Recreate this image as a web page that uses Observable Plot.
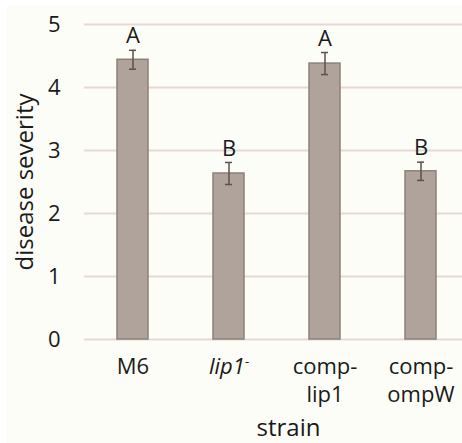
<!DOCTYPE html>
<html><head><meta charset="utf-8">
<script src="https://cdn.jsdelivr.net/npm/d3@7"></script>
<script src="https://cdn.jsdelivr.net/npm/@observablehq/plot@0.6"></script>
<style>
body{margin:0;background:#fff}
#wrap{position:relative;width:462px;height:443px;overflow:hidden;background:#fff}
#bg{position:absolute;left:7px;top:5px;right:0;bottom:0;background:#fdfdf7}
#chart{position:absolute;left:0;top:0}
</style>
</head><body>
<div id="wrap"><div id="bg"></div><div id="chart"></div></div>
<script>
const strains = ["M6", "lip1", "comp-lip1", "comp-ompW"];
const labels = ["M6", "lip1-", "comp-\nlip1", "comp-\nompW"];
const means = [4.44, 2.635, 4.38, 2.67];
const errors = [0.15, 0.175, 0.175, 0.145];
const letters = ["A", "B", "A", "B"];
const yTicks = [0, 1, 2, 3, 4, 5];
const yTitle = "disease severity";
const xTitle = "strain";

const data = strains.map((s, i) => ({strain: s, label: labels[i], mean: means[i], err: errors[i], letter: letters[i]}));

const chart = Plot.plot({
  width: 462, height: 443,
  marginLeft: 84, marginRight: -6, marginTop: 24, marginBottom: 104,
  style: {background: "transparent", fontFamily: "'Open Sans', sans-serif", fontSize: "22px", color: "#1a1a1a", overflow: "hidden"},
  x: {domain: strains, paddingInner: 0.68, paddingOuter: 0.34, axis: null},
  y: {domain: [0, 5], axis: null},
  marks: [
    Plot.gridY(yTicks, {stroke: "#e4d9d6", strokeOpacity: 1, strokeWidth: 2}),
    Plot.axisY(yTicks, {tickSize: 0, tickPadding: 24, fontSize: 22, label: null, fill: "#1a1a1a", tickFormat: d3.format("d")}),
    Plot.barY(data, {x: "strain", y: "mean", fill: "#afa39b", stroke: "#8c807b", strokeWidth: 1.5}),
    Plot.ruleX(data, {x: "strain", y1: d => d.mean - d.err, y2: d => d.mean + d.err, stroke: "#5e504c", strokeWidth: 1.5}),
    Plot.tickY(data, {x: "strain", y: d => d.mean + d.err, insetLeft: 12, insetRight: 12, stroke: "#5e504c", strokeWidth: 1.5}),
    Plot.tickY(data, {x: "strain", y: d => d.mean - d.err, insetLeft: 12, insetRight: 12, stroke: "#5e504c", strokeWidth: 1.5}),
    Plot.text(data, {x: "strain", y: d => d.mean + d.err, text: "letter", dy: -14, lineAnchor: "middle", fontSize: 22, fill: "#1a1a1a"}),
    Plot.text(data, {x: "strain", frameAnchor: "bottom", text: "label", lineAnchor: "top", dy: 14, lineHeight: 1.3, fontSize: 22, fill: "#1a1a1a"}),
    Plot.text([yTitle], {frameAnchor: "left", textAnchor: "middle", text: d => d, rotate: -90, dx: -59, fontSize: 24, lineAnchor: "middle", fill: "#1a1a1a"}),
    Plot.text([xTitle], {frameAnchor: "bottom", text: d => d, dx: 12, dy: 89, fontSize: 24, lineAnchor: "middle", fill: "#1a1a1a"})
  ]
});

// italic lip1 with superscript minus
const ns = "http://www.w3.org/2000/svg";
chart.querySelectorAll("text").forEach(t => {
  if (t.textContent === "lip1-") {
    t.textContent = "";
    const a = document.createElementNS(ns, "tspan");
    a.setAttribute("font-style", "italic");
    a.textContent = "lip1";
    const b = document.createElementNS(ns, "tspan");
    b.setAttribute("font-size", "13");
    b.setAttribute("dy", "-8");
    b.textContent = "-";
    t.appendChild(a);
    t.appendChild(b);
  }
});
document.getElementById("chart").appendChild(chart);
</script>
</body></html>
